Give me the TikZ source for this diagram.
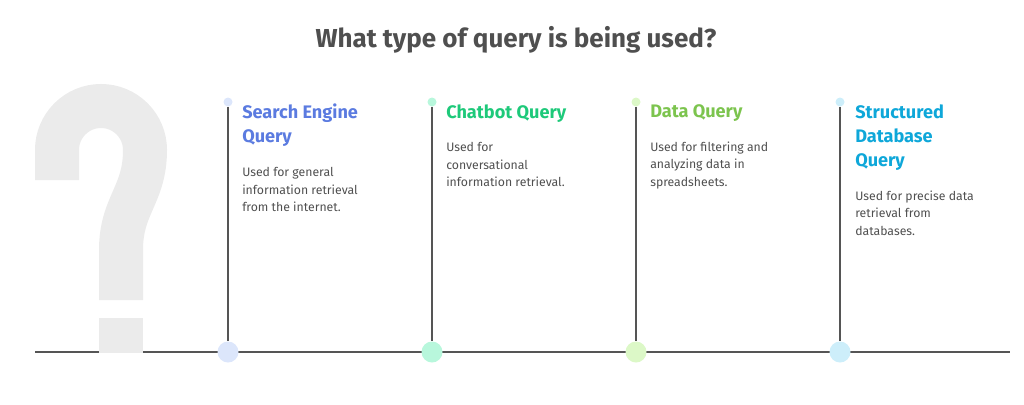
\documentclass[tikz,border=0pt]{standalone}
\usepackage{fontspec}
\setmainfont{Fira Sans}
\usetikzlibrary{positioning}

\definecolor{linegray}{HTML}{555555}
\definecolor{textgray}{HTML}{4F4F4F}
\definecolor{qmark}{HTML}{EBEBEB}
\definecolor{searchC}{HTML}{5B7BE0}
\definecolor{searchL}{HTML}{DCE6FB}
\definecolor{chatC}{HTML}{1EC97A}
\definecolor{chatL}{HTML}{B8F7DC}
\definecolor{dataC}{HTML}{7CC44E}
\definecolor{dataL}{HTML}{DCF8C7}
\definecolor{structC}{HTML}{0EA7D9}
\definecolor{structL}{HTML}{CDEEFA}

\begin{document}
\begin{tikzpicture}[%
  x=0.75pt, y=-0.75pt,
  rail/.style={draw=linegray, line width=1.5pt},
  topdot/.style={circle, inner sep=0pt, minimum size=6.75pt},
  botdot/.style={circle, inner sep=0pt, minimum size=15.75pt},
  head/.style={anchor=north west, inner sep=0pt, align=left,
    font=\fontsize{13.6}{18}\selectfont\bfseries},
  body/.style={inner sep=0pt, align=left, text=textgray,
    font=\fontsize{9.2}{13.2}\selectfont},
]

  \useasboundingbox (0,0) rectangle (1024,404);

  \node[text=textgray, font=\fontsize{19.5}{22}\selectfont\bfseries] (title) at (516,40)
    {What type of query is being used?};

  % base line
  \coordinate (left) at (35,352);
  \coordinate (right) at (1010,352);
  \draw[rail] (left) -- (right);

  % question mark
  \fill[qmark] (99,318) rectangle (143,353);
  \draw[qmark, line width=33pt] (57,180) -- (57,150)
    arc[start angle=180, end angle=360, radius=44]
    .. controls (145,195) and (121,205) .. (121,250) -- (121,300);

  % columns
  \node[topdot, fill=searchL] (tA) at (228,102) {};
  \node[topdot, fill=chatL] (tB) at (432,102) {};
  \node[topdot, fill=dataL] (tC) at (636,102) {};
  \node[topdot, fill=structL] (tD) at (840,102) {};

  \node[botdot, fill=searchL] (bA) at (228,352) {};
  \node[botdot, fill=chatL] (bB) at (432,352) {};
  \node[botdot, fill=dataL] (bC) at (636,352) {};
  \node[botdot, fill=structL] (bD) at (840,352) {};

  \draw[rail] (tA) -- (bA);
  \draw[rail] (tB) -- (bB);
  \draw[rail] (tC) -- (bC);
  \draw[rail] (tD) -- (bD);

  \node[head, text=searchC] (hA) at (242,104) {Search Engine\\Query};
  \node[head, text=chatC] (hB) at (446,104) {Chatbot Query};
  \node[head, text=dataC] (hC) at (650,104) {Data Query};
  \node[head, text=structC] (hD) at (855,104) {Structured\\Database\\Query};

  \node[body, below=15pt of hA.south west, anchor=north west] (dA)
    {Used for general\\information retrieval\\from the internet.};
  \node[body, below=15pt of hB.south west, anchor=north west] (dB)
    {Used for\\conversational\\information retrieval.};
  \node[body, below=15pt of hC.south west, anchor=north west] (dC)
    {Used for filtering and\\analyzing data in\\spreadsheets.};
  \node[body, below=15pt of hD.south west, anchor=north west] (dD)
    {Used for precise data\\retrieval from\\databases.};

\end{tikzpicture}
\end{document}
